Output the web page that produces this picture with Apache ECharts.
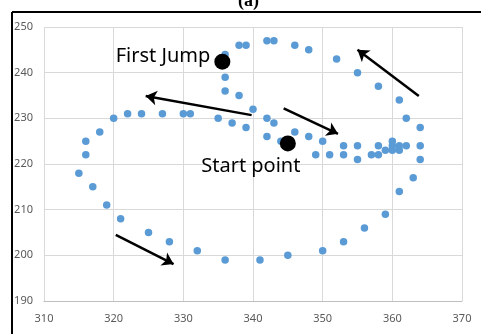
<!DOCTYPE html>
<html>
<head>
<meta charset="utf-8">
<script src="https://cdn.jsdelivr.net/npm/echarts@6/dist/echarts.min.js"></script>
<style>
  html, body { margin: 0; padding: 0; background: #fff; }
  #chart { width: 481px; height: 334px; }
</style>
</head>
<body>
<div id="chart"></div>
<script>
// blue trajectory points
var pointX = [315, 317, 319, 321, 325, 328, 332, 336, 341, 345, 350, 353, 356, 359, 361, 363,
  364, 364, 364, 362, 361, 358, 355, 352, 348, 346, 343, 342, 339, 338, 336, 336, 336, 338, 340,
  337, 335, 339, 342, 343, 342, 344, 346, 348, 350, 353, 355, 358, 360, 360, 361, 362, 359, 360,
  361, 357, 358, 355, 353, 351, 349,
  331, 330, 327, 324, 322, 320, 318, 316, 316];
var pointY = [218, 215, 211, 208, 205, 203, 201, 199, 199, 200, 201, 203, 206, 209, 214, 217,
  221, 224, 228, 230, 234, 237, 240, 243, 245, 246, 247, 247, 246, 246, 244, 239, 236, 235, 232,
  229, 230, 228, 230, 229, 226, 225, 227, 226, 225, 224, 224, 224, 225, 224, 224, 224, 223, 223,
  223, 222, 222, 221, 222, 222, 222,
  231, 231, 231, 231, 231, 230, 227, 225, 222];

// the two highlighted points
var markNames = ['First Jump', 'Start point'];
var markX = [335.6, 345];
var markY = [242.4, 224.5];

// arrows: [fromX, fromY, toX, toY]
var arrows = [
  [339.8, 230.7, 324.6, 234.9],
  [344.4, 232.2, 352.2, 226.6],
  [363.8, 234.9, 355.0, 245.0],
  [320.3, 204.5, 328.6, 198.1]
];

var chart = echarts.init(document.getElementById('chart'));

var points = pointX.map(function (x, i) { return [x, pointY[i]]; });
var marks = markX.map(function (x, i) { return { name: markNames[i], value: [x, markY[i]] }; });
var arrowLines = arrows.map(function (a) {
  return [{ coord: [a[0], a[1]] }, { coord: [a[2], a[3]] }];
});

var labelFont = 'Noto Sans';

var option = {
  animation: false,
  backgroundColor: '#fff',
  grid: { left: 44, right: 19, top: 27, bottom: 33 },
  xAxis: {
    type: 'value',
    min: 310, max: 370, interval: 10,
    axisLine: { show: true, lineStyle: { color: '#bfbfbf', width: 1 } },
    axisTick: { show: false },
    axisLabel: { color: '#595959', fontSize: 11, fontFamily: labelFont, margin: 12 },
    splitLine: { show: true, lineStyle: { color: '#d9d9d9', width: 1 } }
  },
  yAxis: {
    type: 'value',
    min: 190, max: 250, interval: 10,
    axisLine: { show: false },
    axisTick: { show: false },
    axisLabel: { color: '#595959', fontSize: 11, fontFamily: labelFont, margin: 11 },
    splitLine: { show: true, lineStyle: { color: '#d9d9d9', width: 1 } }
  },
  series: [
    {
      type: 'scatter',
      data: points,
      symbolSize: 7.5,
      itemStyle: { color: '#5b9bd5', opacity: 1 },
      markLine: {
        silent: true,
        symbol: ['none', 'arrow'],
        symbolSize: 11,
        label: { show: false },
        lineStyle: { color: '#000', width: 2.5, type: 'solid', opacity: 1 },
        data: arrowLines
      }
    },
    {
      type: 'scatter',
      data: marks,
      symbolSize: 16,
      itemStyle: { color: '#000', opacity: 1 },
      label: {
        show: true,
        formatter: '{b}',
        color: '#000',
        fontSize: 20,
        fontFamily: labelFont,
        position: 'left'
      },
      labelLayout: function (params) {
        if (params.dataIndex === 0) {
          return { x: params.rect.x - 4, y: params.rect.y + params.rect.height / 2 - 5, align: 'right', verticalAlign: 'middle' };
        }
        return { x: params.rect.x - 29, y: params.rect.y + params.rect.height + 15, align: 'center', verticalAlign: 'middle' };
      }
    }
  ],
  graphic: [
    { type: 'line', shape: { x1: 12, y1: 12, x2: 481, y2: 12 }, style: { stroke: '#000', lineWidth: 2 } },
    { type: 'line', shape: { x1: 12, y1: 12, x2: 12, y2: 334 }, style: { stroke: '#000', lineWidth: 2 } },
    {
      type: 'text', left: 238, top: -8,
      style: { text: '(a)', font: 'bold 18px "Liberation Serif"', fill: '#000' }
    }
  ]
};

chart.setOption(option);
window.addEventListener('resize', function () { chart.resize(); });
</script>
</body>
</html>
